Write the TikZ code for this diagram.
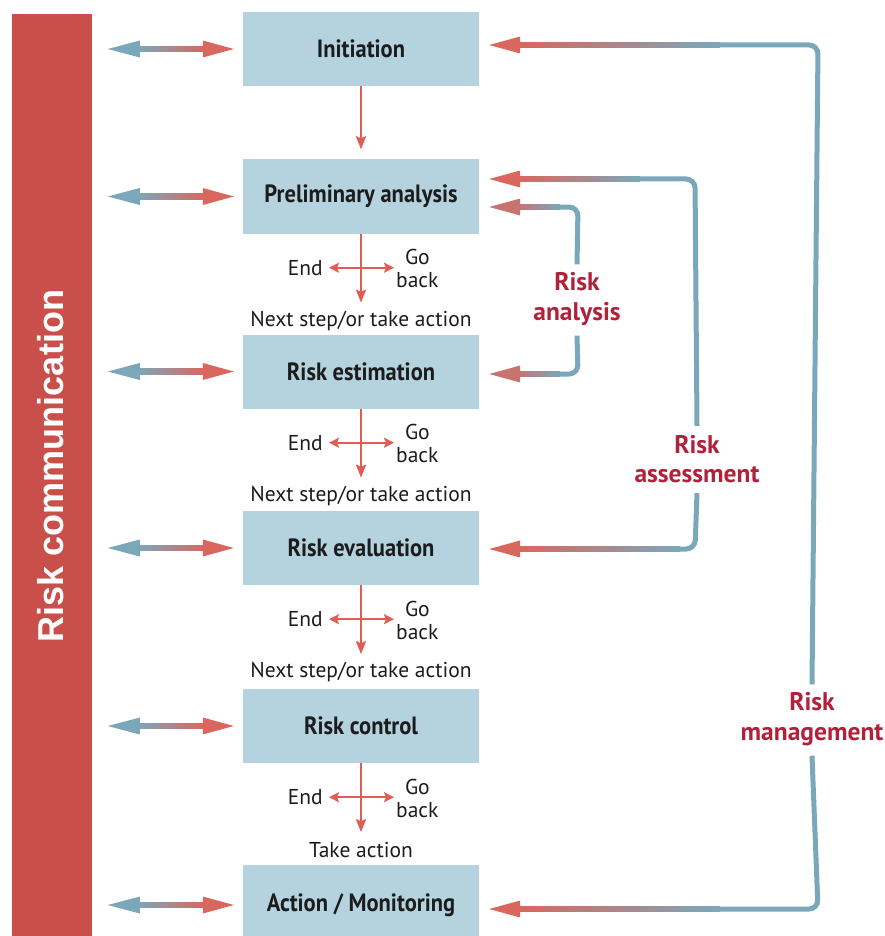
\documentclass[tikz,border=0pt]{standalone}
\usepackage{fontspec}
\setmainfont{PT Sans}
\newfontfamily\boxfont{PT Sans}[FakeStretch=0.9]
\newfontfamily\barfont{Liberation Sans}
\usetikzlibrary{arrows.meta,calc}
\definecolor{boxblue}{HTML}{B4D3DE}
\definecolor{lineblue}{HTML}{7AA8BA}
\definecolor{arrred}{HTML}{DA675E}
\definecolor{barred}{HTML}{C94F4B}
\definecolor{labred}{HTML}{B2213A}
\definecolor{thinred}{HTML}{E25B55}
\definecolor{txt}{HTML}{1C1C1C}

\newcommand\backarrow[3]{% #1 tip coordinate, #2 gradient length, #3 head colour
  \shade[left color=#3, right color=lineblue] ($(#1)+(29,-2.6)$) rectangle ($(#1)+(#2,2.6)$);
  \fill[#3] (#1) -- ($(#1)+(31,-8.5)$) -- ($(#1)+(31,8.5)$) -- cycle;
}
\newcommand\commarrow[1]{%
  \coordinate (#1R) at ($(#1.west)+(-9,0)$);
  \coordinate (#1L) at ($(#1.west)+(-135,0)$);
  \shade[left color=lineblue, right color=arrred] ($(#1L)+(30,-2.6)$) rectangle ($(#1R)+(-29,2.6)$);
  \fill[lineblue] (#1L) -- ($(#1L)+(32,-8.5)$) -- ($(#1L)+(32,8.5)$) -- cycle;
  \fill[arrred] (#1R) -- ($(#1R)+(-31,-8.5)$) -- ($(#1R)+(-31,8.5)$) -- cycle;
}
\newcommand\stepjunction[2]{% #1 box, #2 text
  \coordinate (#1d) at ($(#1.south)+(0,69)$);
  \coordinate (#1hl) at ($(#1.south)+(-32,34)$);
  \coordinate (#1hr) at ($(#1.south)+(33,34)$);
  \draw[thinarr] (#1.south) -- (#1d);
  \draw[dblarr] (#1hl) -- (#1hr);
  \node[small, anchor=east] (#1end) at ($(#1hl)+(-6,0)$) {End};
  \node[small, anchor=west, align=center] (#1back) at ($(#1hr)+(2,1)$) {Go\\back};
  \node[small] (#1next) at ($(#1.south)+(0,87)$) {#2};
}

\begin{document}
\begin{tikzpicture}[x=1pt,y=-1pt,
  stepbox/.style={fill=boxblue, minimum width=236pt, minimum height=74pt, inner sep=0pt,
    font=\boxfont\bfseries\fontsize{25}{28}\selectfont, text=txt},
  small/.style={font=\fontsize{21.5}{23}\selectfont, text=txt, inner sep=0pt},
  thinarr/.style={draw=thinred, line width=2.4pt, -{Stealth[length=13pt,width=10pt,inset=2pt]}},
  dblarr/.style={draw=thinred, line width=2.4pt,
    {Stealth[length=10pt,width=10pt,inset=2pt]}-{Stealth[length=10pt,width=10pt,inset=2pt]}},
  loop/.style={draw=lineblue, line width=5pt, rounded corners=9pt},
  risklab/.style={font=\bfseries\fontsize{25.5}{29.5}\selectfont, text=labred, align=center, inner sep=0pt}
]
\useasboundingbox (0,0) rectangle (885,936);

% communication bar
\fill[barred] (12,14) rectangle (92,936);
\node[rotate=90, text=white, font=\barfont\bfseries\fontsize{36}{40}\selectfont, inner sep=0pt] (comm) at (51,466) {Risk communication};

% boxes
\node[stepbox] (init) at (361,49) {Initiation};
\node[stepbox] (prel) at (361,196.5) {Preliminary analysis};
\node[stepbox] (est) at (361,371.5) {Risk estimation};
\node[stepbox] (eval) at (361,548) {Risk evaluation};
\node[stepbox] (ctrl) at (361,726) {Risk control};
\node[stepbox, minimum height=80pt] (act) at (361,905) {Action / Monitoring};

% left communication arrows
\commarrow{init}
\commarrow{prel}
\commarrow{est}
\commarrow{eval}
\commarrow{ctrl}
\commarrow{act}

% main flow
\draw[thinarr, shorten >=10pt] (init.south) -- (prel.north);
\stepjunction{prel}{Next step/or take action}
\stepjunction{est}{Next step/or take action}
\stepjunction{eval}{Next step/or take action}
\stepjunction{ctrl}{Take action}

% labels
\node[risklab] (lan) at (577,299) {Risk\\analysis};
\node[risklab] (las) at (697,459) {Risk\\assessment};
\node[risklab] (lm) at (812,719) {Risk\\management};
\coordinate (xan) at (578,0);
\coordinate (xas) at (695,0);
\coordinate (xm) at (818,0);

% tips
\coordinate (tI) at ($(init.east)+(10,-4)$);
\coordinate (tP1) at ($(prel.east)+(10,-17.5)$);
\coordinate (tP2) at ($(prel.east)+(10,10.5)$);
\coordinate (tE) at ($(est.east)+(10,2.5)$);
\coordinate (tV) at ($(eval.east)+(10,1)$);
\coordinate (tA) at ($(act.east)+(10,4)$);

% risk management loop
\draw[loop] ($(lm.north)+(0,-8)$ -| xm) -- (tI -| xm) -- ($(tI)+(230,0)$);
\draw[loop] ($(lm.south)+(0,10)$ -| xm) -- (tA -| xm) -- ($(tA)+(230,0)$);
\backarrow{tI}{231}{arrred}
\backarrow{tA}{231}{arrred}

% risk assessment loop
\draw[loop] ($(las.north)+(0,-9)$ -| xas) -- (tP1 -| xas) -- ($(tP1)+(150,0)$);
\draw[loop] ($(las.south)+(0,10)$ -| xas) -- (tV -| xas) -- ($(tV)+(190,0)$);
\backarrow{tP1}{151}{arrred}
\backarrow{tV}{191}{arrred}

% risk analysis loop
\draw[loop] ($(lan.north)+(0,-8)$ -| xan) -- (tP2 -| xan) -- ($(tP2)+(70,0)$);
\draw[loop] ($(lan.south)+(0,10)$ -| xan) -- (tE -| xan) -- ($(tE)+(70,0)$);
\backarrow{tP2}{71}{arrred!80!lineblue}
\backarrow{tE}{71}{arrred!80!lineblue}
\end{tikzpicture}
\end{document}
